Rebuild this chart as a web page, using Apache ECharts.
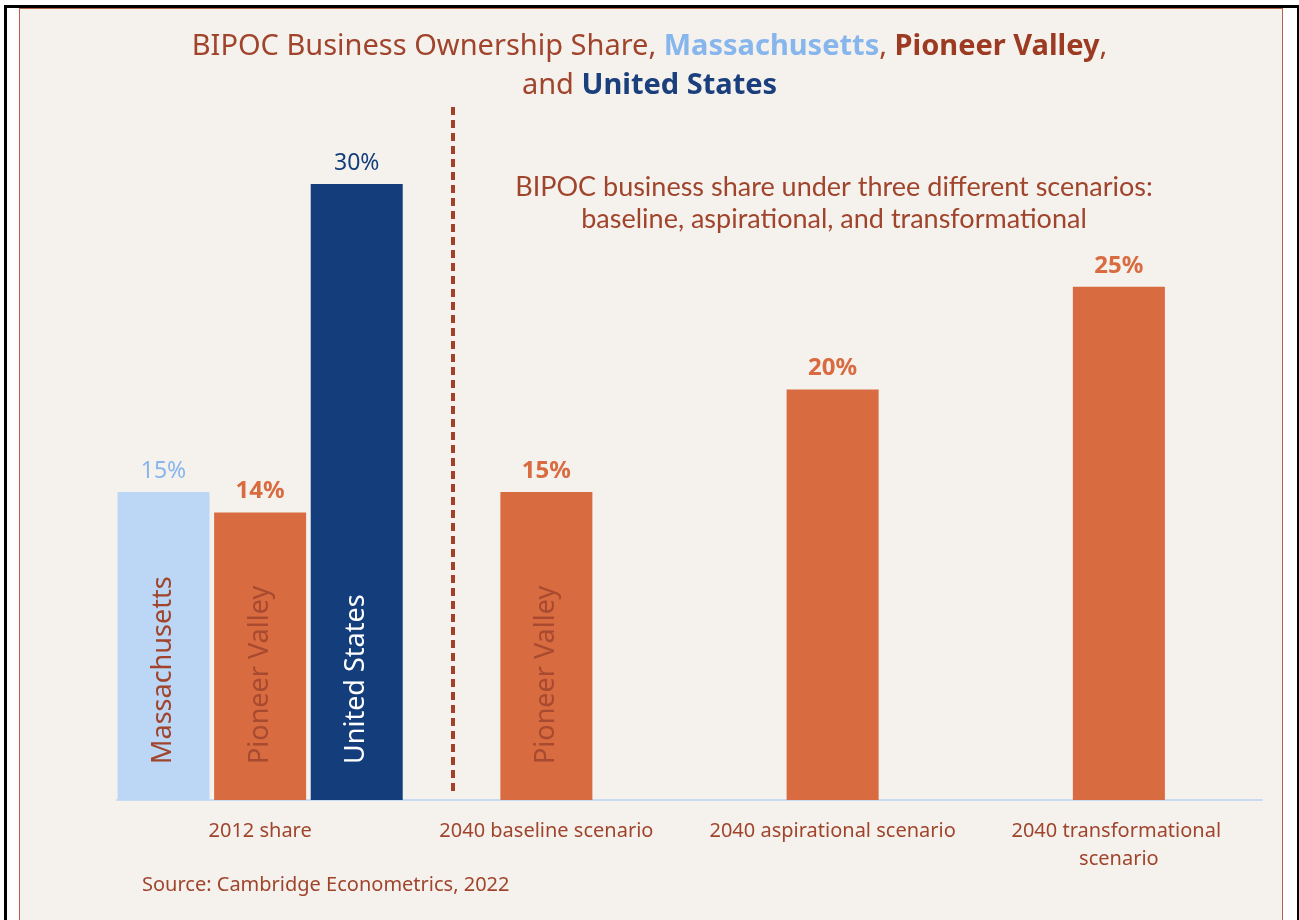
<!DOCTYPE html>
<html>
<head>
<meta charset="utf-8">
<script src="https://cdn.jsdelivr.net/npm/echarts@6/dist/echarts.min.js"></script>
<style>
  html, body { margin: 0; padding: 0; background: #ffffff; }
  .frame-outer {
    position: absolute; left: 4px; top: 5px; width: 1290px; height: 930px;
    border-left: 3px solid #000; border-top: 3px solid #000; border-right: 3px solid #000;
  }
  .frame-inner {
    position: absolute; left: 19px; top: 8px; width: 1262px; height: 930px;
    border: 1px solid #b4624a; background: #f5f2ee;
  }
  #chart { position: absolute; left: 0; top: 0; width: 1299px; height: 920px; }
</style>
</head>
<body>
<div class="frame-outer"></div>
<div class="frame-inner"></div>
<div id="chart"></div>
<script>
// categories and values (percent)
const categories = ['2012 share', '2040 baseline scenario', '2040 aspirational scenario', '2040 transformational scenario'];
const massachusetts = [15, '-', '-', '-'];
const pioneerValley = [14, 15, 20, 25];
const unitedStates = [30, '-', '-', '-'];

const brown = '#a0442c';
const orange = '#d96b40';
const lightBlue = '#bcd7f6';
const darkBlue = '#143e7b';
const font = '"Noto Sans", sans-serif';

const chart = echarts.init(document.getElementById('chart'));

const innerLabel = (text, color) => ({
  show: true,
  position: 'insideBottom',
  rotate: 90,
  align: 'left',
  verticalAlign: 'middle',
  distance: 36,
  formatter: text,
  color: color,
  fontFamily: font,
  fontSize: 27,
});

const topLabel = (color, weight, size) => ({
  show: true,
  position: 'top',
  distance: 9,
  formatter: '{c}%',
  color: color,
  fontWeight: weight,
  fontFamily: font,
  fontSize: size,
});

chart.setOption({
  animation: false,
  title: [{
    left: 'center',
    top: 22,
    text: '{a|BIPOC Business Ownership Share, }{b|Massachusetts}{a|, }{c|Pioneer Valley}{a|,}\n{a|and }{d|United States}',
    textStyle: {
      fontWeight: 'normal',
      rich: {
        a: { fontFamily: font, fontSize: 29, color: brown, fontWeight: 'normal', lineHeight: 39 },
        b: { fontFamily: font, fontSize: 29, color: '#86b6ec', fontWeight: 'bold', lineHeight: 39 },
        c: { fontFamily: font, fontSize: 29, color: '#9c3b22', fontWeight: 'bold', lineHeight: 39 },
        d: { fontFamily: font, fontSize: 29, color: '#1a3f7c', fontWeight: 'bold', lineHeight: 39 },
      },
    },
  }, {
    left: 137,
    top: 870,
    text: 'Source: Cambridge Econometrics, 2022',
    textStyle: { fontFamily: font, fontSize: 20, fontWeight: 'normal', color: brown },
  }],
  graphic: [{
    type: 'line',
    shape: { x1: 453, y1: 107, x2: 453, y2: 796 },
    style: { stroke: '#a3402a', lineWidth: 4, lineDash: [8, 5] },
    silent: true,
  }, {
    type: 'text',
    x: 834,
    y: 171,
    style: {
      text: 'BIPOC business share under three different scenarios:\nbaseline, aspirational, and transformational',
      fontFamily: 'Lato, sans-serif',
      fontSize: 27,
      lineHeight: 32,
      fill: brown,
      align: 'center',
    },
    silent: true,
  }],
  grid: { left: 117, right: 37, top: 102, bottom: 120 },
  xAxis: [{
    type: 'category',
    data: categories,
    axisLine: { lineStyle: { color: '#c8dbf3', width: 2 } },
    axisTick: { show: false },
    axisLabel: {
      color: brown,
      fontFamily: font,
      fontSize: 20,
      margin: 17,
      lineHeight: 28,
      width: 275,
      overflow: 'break',
      interval: 0,
    },
  }, {
    type: 'category',
    data: categories,
    show: false,
  }],
  yAxis: {
    type: 'value',
    min: 0,
    max: 34,
    show: false,
    splitLine: { show: false },
  },
  series: [
    {
      name: 'Massachusetts', type: 'bar', xAxisIndex: 0, data: massachusetts,
      barWidth: 92, barGap: '5%',
      itemStyle: { color: lightBlue },
      label: topLabel('#86b6ec', 'normal', 23),
    },
    {
      name: 'Pioneer Valley', type: 'bar', xAxisIndex: 0, data: pioneerValley,
      barWidth: 92, barGap: '5%',
      itemStyle: { color: orange },
      label: topLabel(orange, 'bold', 24),
    },
    {
      name: 'United States', type: 'bar', xAxisIndex: 0, data: unitedStates,
      barWidth: 92, barGap: '5%',
      itemStyle: { color: darkBlue },
      label: topLabel(darkBlue, 'normal', 23),
    },
    // transparent twins carrying the rotated names inside the bars
    {
      type: 'bar', xAxisIndex: 1, data: massachusetts, silent: true,
      barWidth: 92, barGap: '5%',
      itemStyle: { color: 'transparent' },
      label: innerLabel('Massachusetts', '#a0442c'),
    },
    {
      type: 'bar', xAxisIndex: 1, data: [pioneerValley[0], pioneerValley[1], '-', '-'], silent: true,
      barWidth: 92, barGap: '5%',
      itemStyle: { color: 'transparent' },
      label: innerLabel('Pioneer Valley', '#a84a30'),
    },
    {
      type: 'bar', xAxisIndex: 1, data: unitedStates, silent: true,
      barWidth: 92, barGap: '5%',
      itemStyle: { color: 'transparent' },
      label: innerLabel('United States', '#ffffff'),
    },
  ],
});
</script>
</body>
</html>
